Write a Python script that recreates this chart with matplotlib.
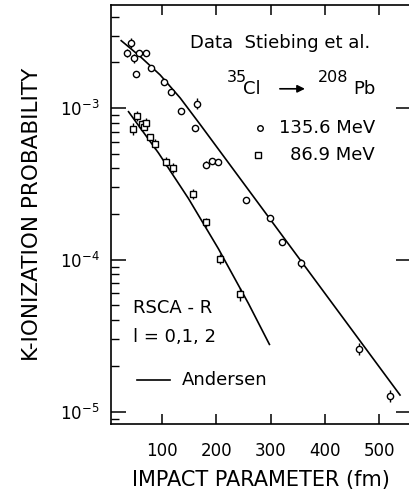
import matplotlib
matplotlib.use('Agg')
import matplotlib.pyplot as plt
import numpy as np

# 135.6 MeV data (circles)
b_136 = [34.9, 42.3, 47.1, 51.2, 56.7, 70.5, 80.1, 102.4, 116.6, 134.5, 164.0,
         160.3, 181.1, 192.2, 202.7, 254.3, 299.1, 321.2, 355.7, 463.1, 519.7]
p_136 = [2.31e-3, 2.69e-3, 2.13e-3, 1.67e-3, 2.32e-3, 2.31e-3, 1.84e-3, 1.48e-3,
         1.27e-3, 9.55e-4, 1.07e-3, 7.38e-4, 4.23e-4, 4.50e-4, 4.39e-4, 2.49e-4,
         1.89e-4, 1.31e-4, 9.48e-5, 2.58e-5, 1.27e-5]
err_136 = [0.06, 0.08, 0.07, 0, 0, 0, 0, 0, 0, 0, 0.09,
           0, 0.05, 0, 0, 0, 0, 0, 0.07, 0.10, 0.10]

# 86.9 MeV data (squares)
b_87 = [46.0, 53.9, 62.6, 66.8, 70.5, 77.3, 85.8, 106.8, 119.4, 156.2, 181.1, 207.3, 244.3]
p_87 = [7.27e-4, 8.90e-4, 7.85e-4, 7.55e-4, 8.00e-4, 6.44e-4, 5.79e-4, 4.43e-4,
        4.01e-4, 2.71e-4, 1.77e-4, 1.01e-4, 5.92e-5]
err_87 = [0.10, 0.08, 0.06, 0.06, 0.08, 0.05, 0.08, 0.07, 0.08, 0.08, 0.07, 0.08, 0.10]

# Andersen curves (RSCA-R, l=0,1,2)
b_th136 = [24.4, 59.4, 96.3, 133.2, 170.1, 538.7]
p_th136 = [2.777e-3, 2.184e-3, 1.650e-3, 1.164e-3, 7.78e-4, 1.285e-5]
b_th87 = [37.9, 93.2, 148.5, 203.8, 259.1, 297.8]
p_th87 = [9.45e-4, 5.05e-4, 2.53e-4, 1.18e-4, 5.15e-5, 2.77e-5]

xticks = [100, 200, 300, 400, 500]


def asym(p, f):
    p = np.array(p)
    f = np.array(f)
    return [p - p / (1 + f), p * f]


fig = plt.figure(figsize=(4.1, 5.0), dpi=100)
ax = fig.add_axes([0.270, 0.152, 0.7325, 0.838])

ax.plot(b_th136, p_th136, color='k', lw=1.2)
ax.plot(b_th87, p_th87, color='k', lw=1.2)

ax.errorbar(b_136, p_136, yerr=asym(p_136, err_136), fmt='o', ms=4.5, mfc='white',
            mec='k', mew=1.0, ecolor='k', elinewidth=1.0, capsize=0, zorder=3)
ax.errorbar(b_87, p_87, yerr=asym(p_87, err_87), fmt='s', ms=4.5, mfc='white',
            mec='k', mew=1.0, ecolor='k', elinewidth=1.0, capsize=0, zorder=3)

ax.set_yscale('log')
ax.set_xlim(5, 559)
ax.set_ylim(8.28e-6, 4.77e-3)
ax.set_xticks(xticks)
ax.set_yticks([1e-5, 1e-4, 1e-3])

for s in ax.spines.values():
    s.set_linewidth(1.2)

ax.tick_params(axis='x', which='major', direction='in', top=True, length=7, width=1.1,
               labelsize=12, pad=13)
ax.tick_params(axis='y', which='major', direction='in', right=True, length=11, width=1.1,
               labelsize=12, pad=8)
ax.tick_params(axis='y', which='minor', direction='in', right=False, length=6, width=1.0)

ax.set_xlabel('IMPACT PARAMETER (fm)', fontsize=15, va='center')
ax.xaxis.set_label_coords(0.5, -0.134)
ax.set_ylabel('K-IONIZATION PROBABILITY', fontsize=15.5, va='center')
ax.yaxis.set_label_coords(-0.262, 0.5)

tr = ax.transAxes
ax.text(0.264, 0.909, 'Data  Stiebing et al.', transform=tr, fontsize=13, va='center')
ax.text(0.387, 0.826, '35', transform=tr, fontsize=11.5, va='center')
ax.text(0.441, 0.800, 'Cl', transform=tr, fontsize=13, va='center')
ax.annotate('', xy=(0.656, 0.800), xytext=(0.554, 0.800), xycoords=tr,
            arrowprops=dict(arrowstyle='-|>', color='k', lw=1.2, mutation_scale=11))
ax.text(0.690, 0.826, '208', transform=tr, fontsize=11.5, va='center')
ax.text(0.808, 0.800, 'Pb', transform=tr, fontsize=13, va='center')

ax.plot([0.497], [0.706], 'o', ms=4, mfc='white', mec='k', mew=1.0, transform=tr)
ax.text(0.560, 0.706, '135.6 MeV', transform=tr, fontsize=13, va='center')
ax.plot([0.491], [0.642], 's', ms=4, mfc='white', mec='k', mew=1.0, transform=tr)
ax.text(0.597, 0.642, '86.9 MeV', transform=tr, fontsize=13, va='center')

ax.text(0.074, 0.277, 'RSCA - R', transform=tr, fontsize=13, va='center')
ax.text(0.074, 0.208, 'l = 0,1, 2', transform=tr, fontsize=13, va='center')
ax.plot([0.088, 0.197], [0.105, 0.105], color='k', lw=1.2, transform=tr)
ax.text(0.238, 0.105, 'Andersen', transform=tr, fontsize=13, va='center')

fig.savefig('out.png', dpi=100)
